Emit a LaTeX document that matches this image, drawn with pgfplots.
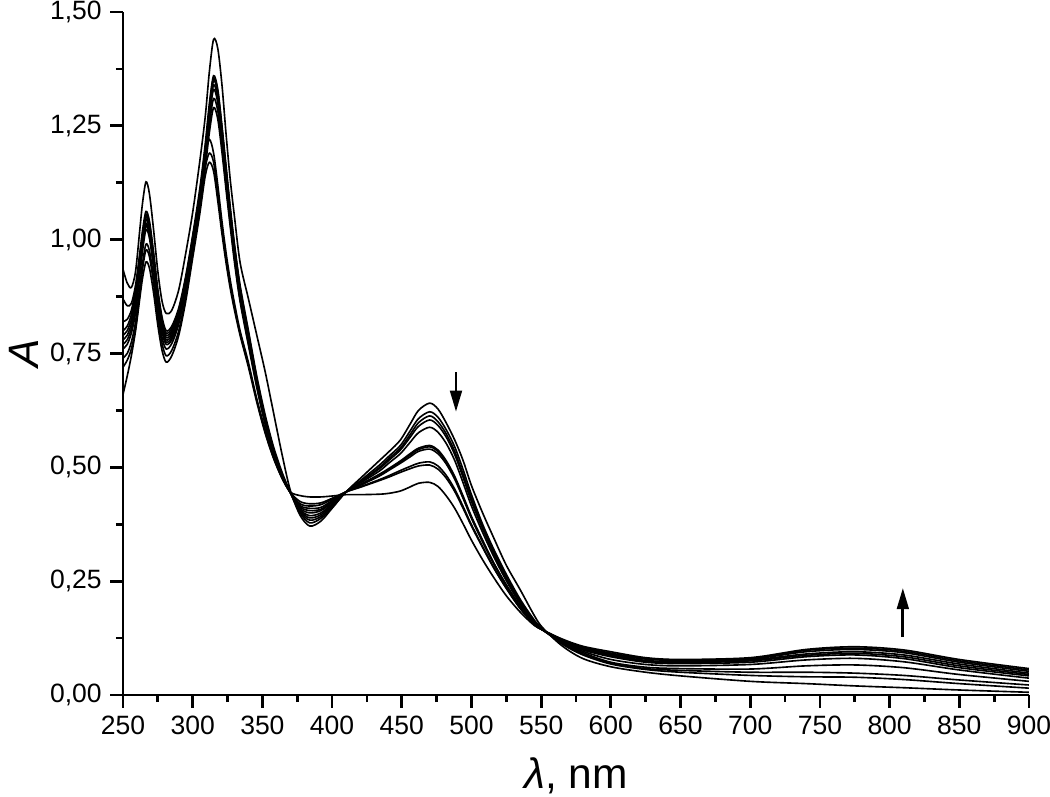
\documentclass[border=0pt]{standalone}
\usepackage{fontspec}
\setmainfont{Liberation Sans}
\usepackage{pgfplots}
\pgfplotsset{compat=1.18}
\usepackage{pgfplotstable}
\usetikzlibrary{arrows.meta}

\pgfplotstableread{
x c1 c2 c3 c4 c5 c6 c7 c8 c9 c10 c11
250 0.935 0.87 0.82 0.80 0.79 0.78 0.77 0.76 0.74 0.72 0.66
253 0.905 0.855 0.825 0.81 0.80 0.79 0.78 0.77 0.75 0.735 0.70
256 0.895 0.86 0.845 0.835 0.825 0.815 0.805 0.795 0.775 0.76 0.745
259 0.93 0.90 0.89 0.88 0.87 0.86 0.85 0.84 0.82 0.805 0.80
262 1.02 0.97 0.96 0.955 0.945 0.935 0.928 0.92 0.895 0.88 0.87
264 1.08 1.02 1.01 1.005 0.998 0.99 0.982 0.975 0.948 0.935 0.915
266.5 1.127 1.062 1.056 1.05 1.044 1.036 1.03 1.022 0.99 0.977 0.951
269 1.10 1.04 1.035 1.03 1.024 1.016 1.01 1.003 0.975 0.962 0.937
272 1.02 0.97 0.965 0.96 0.955 0.948 0.942 0.936 0.915 0.903 0.882
275 0.93 0.89 0.885 0.88 0.875 0.868 0.862 0.857 0.842 0.83 0.812
278 0.865 0.83 0.825 0.82 0.815 0.808 0.803 0.798 0.785 0.772 0.757
281 0.838 0.80 0.795 0.79 0.785 0.78 0.775 0.77 0.76 0.745 0.731
285 0.845 0.81 0.805 0.80 0.795 0.79 0.785 0.78 0.772 0.757 0.745
290 0.89 0.85 0.845 0.84 0.835 0.83 0.825 0.82 0.815 0.80 0.79
295 0.97 0.92 0.915 0.91 0.905 0.90 0.895 0.89 0.89 0.875 0.865
300 1.06 1.01 1.005 1.00 0.995 0.99 0.985 0.978 0.985 0.97 0.96
305 1.17 1.11 1.10 1.095 1.09 1.085 1.078 1.07 1.09 1.07 1.055
309 1.27 1.21 1.20 1.195 1.19 1.18 1.17 1.158 1.185 1.158 1.14
312 1.37 1.30 1.29 1.285 1.278 1.27 1.253 1.236 1.22 1.19 1.17
315 1.44 1.36 1.355 1.35 1.34 1.33 1.31 1.29 1.19 1.17 1.15
318 1.42 1.33 1.325 1.32 1.31 1.30 1.283 1.265 1.12 1.10 1.085
321 1.34 1.25 1.245 1.24 1.23 1.22 1.207 1.192 1.04 1.025 1.013
324 1.23 1.16 1.155 1.15 1.14 1.13 1.12 1.108 0.97 0.958 0.948
327 1.13 1.07 1.065 1.06 1.052 1.045 1.036 1.027 0.91 0.90 0.892
330 1.05 0.99 0.985 0.98 0.972 0.965 0.958 0.95 0.86 0.852 0.845
334 0.95 0.90 0.895 0.89 0.882 0.876 0.87 0.864 0.80 0.795 0.79
340 0.87 0.80 0.795 0.79 0.783 0.778 0.773 0.768 0.73 0.725 0.72
346 0.79 0.70 0.695 0.69 0.686 0.683 0.679 0.675 0.65 0.647 0.643
352 0.71 0.615 0.61 0.605 0.602 0.60 0.597 0.594 0.583 0.578 0.575
358 0.62 0.545 0.54 0.537 0.535 0.534 0.532 0.53 0.524 0.521 0.52
364 0.53 0.49 0.487 0.485 0.484 0.483 0.482 0.481 0.478 0.477 0.477
370 0.45 0.445 0.445 0.445 0.445 0.445 0.445 0.445 0.445 0.445 0.446
377 0.395 0.40 0.403 0.405 0.407 0.41 0.413 0.416 0.42 0.425 0.438
384 0.371 0.378 0.384 0.389 0.394 0.40 0.405 0.41 0.415 0.42 0.435
392 0.382 0.388 0.392 0.396 0.40 0.405 0.408 0.412 0.418 0.422 0.435
400 0.41 0.412 0.415 0.418 0.42 0.423 0.425 0.427 0.43 0.432 0.437
410 0.446 0.446 0.446 0.446 0.446 0.446 0.446 0.446 0.446 0.446 0.44
420 0.475 0.47 0.468 0.467 0.465 0.462 0.461 0.46 0.457 0.456 0.44
434 0.515 0.505 0.50 0.497 0.492 0.485 0.483 0.481 0.473 0.471 0.441
441 0.535 0.525 0.52 0.516 0.51 0.498 0.496 0.494 0.482 0.479 0.443
449 0.56 0.548 0.542 0.538 0.53 0.514 0.512 0.509 0.493 0.489 0.448
456 0.595 0.58 0.572 0.566 0.555 0.53 0.527 0.523 0.502 0.497 0.457
462 0.625 0.607 0.598 0.59 0.576 0.542 0.539 0.535 0.509 0.503 0.465
470 0.641 0.622 0.613 0.604 0.588 0.548 0.545 0.54 0.512 0.505 0.467
476 0.628 0.61 0.60 0.592 0.577 0.538 0.535 0.53 0.503 0.496 0.458
482 0.597 0.582 0.573 0.566 0.552 0.514 0.511 0.507 0.482 0.476 0.437
488 0.56 0.545 0.535 0.528 0.515 0.48 0.477 0.474 0.452 0.447 0.41
494 0.515 0.495 0.485 0.478 0.466 0.437 0.434 0.432 0.414 0.41 0.376
500 0.46 0.44 0.432 0.425 0.415 0.392 0.39 0.388 0.374 0.371 0.34
508 0.40 0.375 0.37 0.365 0.357 0.34 0.338 0.336 0.326 0.324 0.297
516 0.345 0.32 0.315 0.31 0.304 0.29 0.289 0.288 0.28 0.279 0.258
525 0.285 0.265 0.26 0.256 0.251 0.242 0.241 0.24 0.235 0.234 0.218
535 0.231 0.21 0.207 0.204 0.20 0.195 0.194 0.193 0.19 0.19 0.182
545 0.175 0.165 0.163 0.161 0.159 0.157 0.156 0.156 0.155 0.155 0.153
551 0.148 0.145 0.144 0.143 0.143 0.143 0.143 0.143 0.143 0.143 0.143
565 0.108 0.112 0.114 0.115 0.116 0.118 0.119 0.12 0.121 0.122 0.123
580 0.08 0.088 0.09 0.093 0.096 0.099 0.10 0.102 0.103 0.105 0.107
600 0.062 0.068 0.07 0.072 0.078 0.084 0.086 0.088 0.09 0.092 0.095
625 0.05 0.056 0.058 0.061 0.067 0.072 0.074 0.076 0.079 0.08 0.082
650 0.042 0.05 0.054 0.058 0.064 0.069 0.071 0.073 0.076 0.077 0.078
700 0.03 0.043 0.05 0.057 0.067 0.072 0.075 0.077 0.079 0.08 0.082
740 0.025 0.04 0.05 0.064 0.077 0.084 0.087 0.09 0.095 0.098 0.10
775 0.02 0.039 0.048 0.066 0.0805 0.088 0.0915 0.095 0.10 0.103 0.106
810 0.016 0.034 0.043 0.06 0.073 0.08 0.084 0.088 0.093 0.096 0.099
850 0.011 0.025 0.033 0.045 0.055 0.06 0.064 0.068 0.072 0.075 0.078
900 0.006 0.015 0.022 0.03 0.037 0.042 0.045 0.048 0.052 0.055 0.058
}\spectra

\begin{document}
\begin{tikzpicture}
\useasboundingbox (0,0) rectangle (420pt,318.4pt);
\begin{axis}[
  at={(49.2pt,40.4pt)}, anchor=south west,
  scale only axis, width=362.4pt, height=273.2pt,
  xmin=250, xmax=900, ymin=0, ymax=1.5,
  axis lines=left, axis line style={-, line width=1.1pt},
  xtick={250,300,...,900}, ytick={0,0.25,0.5,0.75,1,1.25,1.5},
  minor x tick num=1, minor y tick num=1,
  tick align=outside, major tick length=5pt, minor tick length=2.8pt,
  tick style={black, line width=1.1pt},
  ticklabel style={font=\fontsize{10.6}{12}\selectfont},
  /pgf/number format/assume math mode=true,
  yticklabel style={/pgf/number format/.cd, fixed, fixed zerofill, precision=2, use comma},
  xticklabel style={/pgf/number format/.cd, fixed, precision=0, 1000 sep={}},
  xlabel={{\itshape λ}, nm}, ylabel={\itshape A},
  label style={font=\fontsize{17}{19}\selectfont},
  xlabel style={at={(axis description cs:0.5,-0.118)}, anchor=center},
  ylabel style={at={(axis description cs:-0.109,0.5)}, anchor=center},
  clip=true,
]
\pgfplotsinvokeforeach{1,...,11}{
  \addplot[black, line width=0.65pt, smooth, no markers] table[x=x, y=c#1]{\spectra};
}
\draw[line width=1.1pt, -{Triangle[length=8.5pt,width=4.7pt]}] (axis cs:488.9,0.709) -- (axis cs:488.9,0.622);
\draw[line width=1.1pt, -{Triangle[length=8.5pt,width=4.7pt]}] (axis cs:809.5,0.127) -- (axis cs:809.5,0.235);
\end{axis}
\end{tikzpicture}
\end{document}
